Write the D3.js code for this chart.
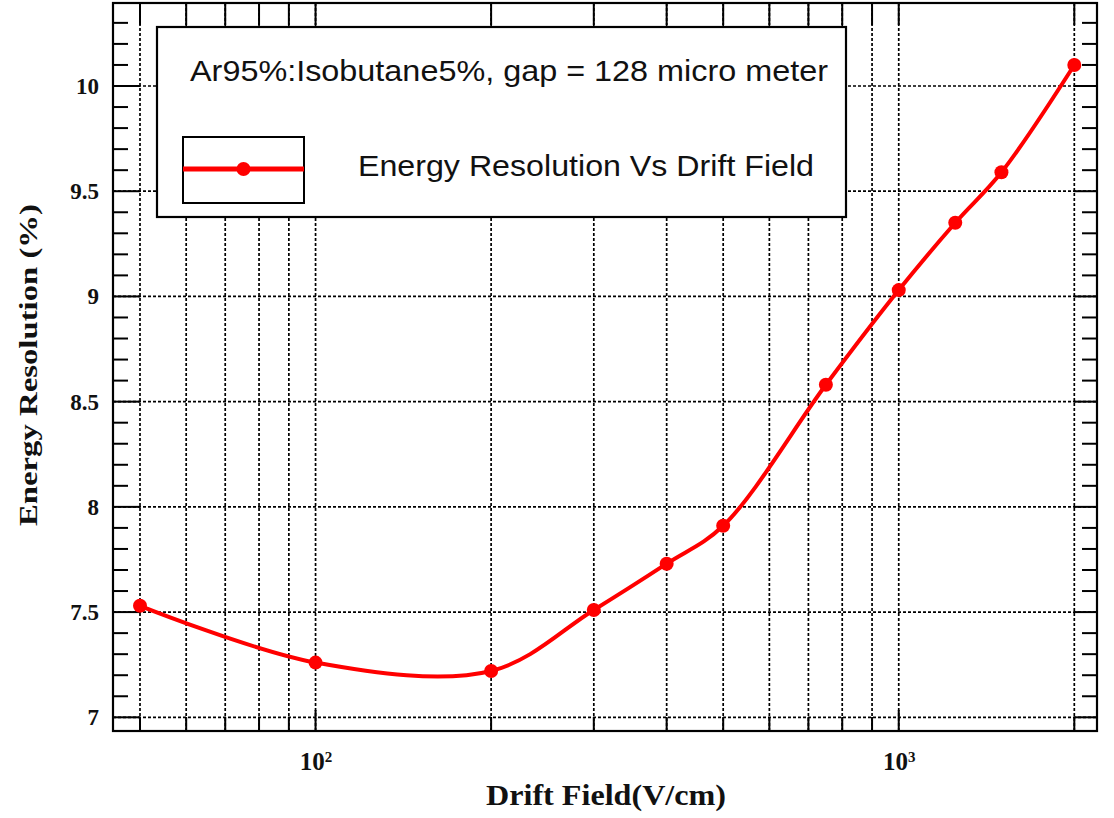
<!DOCTYPE html>
<html>
<head>
<meta charset="utf-8">
<script src="https://cdn.jsdelivr.net/npm/d3@7"></script>
<style>
  html, body { margin: 0; padding: 0; background: #fff; }
  svg { display: block; }
</style>
</head>
<body>
<svg id="chart" width="1114" height="818"></svg>
<script>
// Drift field (V/cm) and the measured energy resolution (%)
const driftField = [50, 100, 200, 300, 400, 500, 750, 1000, 1250, 1500, 2000];
const energyResolution = [7.53, 7.26, 7.22, 7.51, 7.73, 7.91, 8.58, 9.03, 9.35, 9.59, 10.10];

// Axis ticks and grid positions
const yMajorTicks = [7, 7.5, 8, 8.5, 9, 9.5, 10];
const yTickLabels = ["7", "7.5", "8", "8.5", "9", "9.5", "10"];
const yMinorTicks = [7.1, 7.2, 7.3, 7.4, 7.6, 7.7, 7.8, 7.9, 8.1, 8.2, 8.3, 8.4, 8.6, 8.7, 8.8, 8.9,
                     9.1, 9.2, 9.3, 9.4, 9.6, 9.7, 9.8, 9.9, 10.1, 10.2, 10.3];
const xGridValues = [50, 60, 70, 80, 90, 100, 200, 300, 400, 500, 600, 700, 800, 900, 1000, 2000];
const xDecadeTicks = [100, 1000];
const xDecadeExponents = ["2", "3"];

const legendTitle = "Ar95%:Isobutane5%, gap = 128 micro meter";
const seriesName = "Energy Resolution Vs Drift Field";
const xTitle = "Drift Field(V/cm)";
const yTitle = "Energy Resolution (%)";

const svg = d3.select("#chart");
const serif = "'Liberation Serif', 'Times New Roman', serif";
const sans = "'Liberation Sans', Arial, sans-serif";
const red = "#ff0000";

// Scales: data range sits inside a slightly larger frame
const x = d3.scaleLog().domain([50, 2000]).range([140, 1074.3]);
const y = d3.scaleLinear().domain([7, 10]).range([717.3, 86]);

const frame = { left: 113, right: 1097, top: 3, bottom: 731 };

// Dashed grid
const grid = svg.append("g")
  .attr("stroke", "#000")
  .attr("stroke-width", 1.7)
  .attr("stroke-dasharray", "3,2");
grid.selectAll("line.h").data(yMajorTicks).join("line")
  .attr("class", "h")
  .attr("x1", frame.left).attr("x2", frame.right)
  .attr("y1", d => y(d)).attr("y2", d => y(d));
grid.selectAll("line.v").data(xGridValues).join("line")
  .attr("class", "v")
  .attr("y1", frame.top).attr("y2", frame.bottom)
  .attr("x1", d => x(d)).attr("x2", d => x(d));

// Ticks
const ticks = svg.append("g").attr("stroke", "#000").attr("stroke-width", 2);
// left / right
ticks.selectAll("line.lmaj").data(yMajorTicks).join("line")
  .attr("x1", frame.left).attr("x2", frame.left + 27)
  .attr("y1", d => y(d)).attr("y2", d => y(d));
ticks.selectAll("line.lmin").data(yMinorTicks).join("line")
  .attr("x1", frame.left).attr("x2", frame.left + 15)
  .attr("y1", d => y(d)).attr("y2", d => y(d));
ticks.selectAll("line.rmaj").data(yMajorTicks).join("line")
  .attr("x1", frame.right).attr("x2", frame.right - 23)
  .attr("y1", d => y(d)).attr("y2", d => y(d));
ticks.selectAll("line.rmin").data(yMinorTicks).join("line")
  .attr("x1", frame.right).attr("x2", frame.right - 15)
  .attr("y1", d => y(d)).attr("y2", d => y(d));
// bottom / top
ticks.selectAll("line.b").data(xGridValues).join("line")
  .attr("y1", frame.bottom)
  .attr("y2", d => frame.bottom - (xDecadeTicks.includes(d) ? 21 : 14))
  .attr("x1", d => x(d)).attr("x2", d => x(d));
ticks.selectAll("line.t").data(xGridValues).join("line")
  .attr("y1", frame.top).attr("y2", frame.top + 22)
  .attr("x1", d => x(d)).attr("x2", d => x(d));

// Frame
svg.append("rect")
  .attr("x", frame.left).attr("y", frame.top)
  .attr("width", frame.right - frame.left).attr("height", frame.bottom - frame.top)
  .attr("fill", "none").attr("stroke", "#000").attr("stroke-width", 2.2);

// Y tick labels
svg.append("g").selectAll("text").data(yMajorTicks).join("text")
  .attr("x", 99).attr("y", d => y(d))
  .attr("dy", "0.35em")
  .attr("text-anchor", "end")
  .attr("font-family", serif).attr("font-weight", "bold").attr("font-size", 23)
  .attr("fill", "#111")
  .text((d, i) => yTickLabels[i]);

// X decade labels 10^n
const xl = svg.append("g").selectAll("text").data(xDecadeTicks).join("text")
  .attr("x", d => x(d) + 0.5).attr("y", 770)
  .attr("text-anchor", "middle")
  .attr("font-family", serif).attr("font-weight", "bold").attr("font-size", 25)
  .attr("fill", "#111");
xl.append("tspan").text("10");
xl.append("tspan").attr("font-size", 15).attr("dy", -8).text((d, i) => xDecadeExponents[i]);

// Axis titles
svg.append("text")
  .attr("x", 606).attr("y", 805)
  .attr("text-anchor", "middle")
  .attr("font-family", serif).attr("font-weight", "bold").attr("font-size", 29)
  .attr("textLength", 240).attr("lengthAdjust", "spacingAndGlyphs")
  .attr("fill", "#111")
  .text(xTitle);
svg.append("text")
  .attr("transform", "translate(37,365) rotate(-90)")
  .attr("text-anchor", "middle")
  .attr("font-family", serif).attr("font-weight", "bold").attr("font-size", 25)
  .attr("textLength", 322).attr("lengthAdjust", "spacingAndGlyphs")
  .attr("fill", "#111")
  .text(yTitle);

// Legend
const legend = svg.append("g");
legend.append("rect")
  .attr("x", 157).attr("y", 27).attr("width", 689).attr("height", 190)
  .attr("fill", "#fff").attr("stroke", "#000").attr("stroke-width", 2.2);
legend.append("text")
  .attr("x", 190).attr("y", 81)
  .attr("font-family", sans).attr("font-size", 29)
  .attr("textLength", 638).attr("lengthAdjust", "spacingAndGlyphs")
  .attr("fill", "#111")
  .text(legendTitle);
legend.append("rect")
  .attr("x", 183).attr("y", 137).attr("width", 121).attr("height", 66)
  .attr("fill", "#fff").attr("stroke", "#000").attr("stroke-width", 2);
legend.append("line")
  .attr("x1", 183).attr("x2", 304).attr("y1", 169).attr("y2", 169)
  .attr("stroke", red).attr("stroke-width", 5);
legend.append("circle")
  .attr("cx", 243.5).attr("cy", 169).attr("r", 7).attr("fill", red);
legend.append("text")
  .attr("x", 358).attr("y", 176)
  .attr("font-family", sans).attr("font-size", 29)
  .attr("textLength", 456).attr("lengthAdjust", "spacingAndGlyphs")
  .attr("fill", "#111")
  .text(seriesName);

// Series curve and markers
const pts = driftField.map((f, i) => [f, energyResolution[i]]);
const line = d3.line()
  .x(d => x(d[0])).y(d => y(d[1]))
  .curve(d3.curveCatmullRom.alpha(0.5));
svg.append("path")
  .datum(pts)
  .attr("d", line)
  .attr("fill", "none").attr("stroke", red).attr("stroke-width", 4)
  .attr("stroke-linejoin", "round");
svg.append("g").selectAll("circle").data(pts).join("circle")
  .attr("cx", d => x(d[0])).attr("cy", d => y(d[1]))
  .attr("r", 7).attr("fill", red);
</script>
</body>
</html>
